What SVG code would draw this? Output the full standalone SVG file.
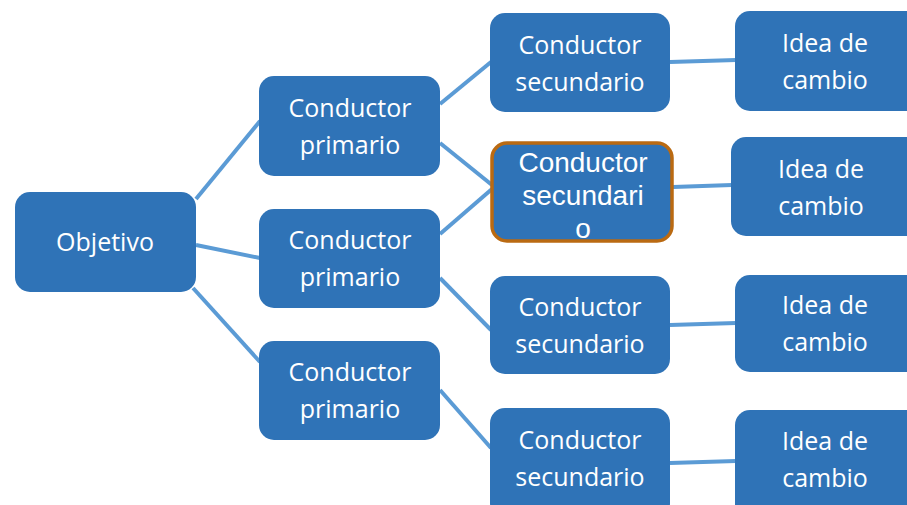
<svg xmlns="http://www.w3.org/2000/svg" width="907" height="505" viewBox="0 0 907 505">
<style>
.n{fill:#2F73B7;}
.hl{fill:#2F73B7;stroke:#BA6A12;stroke-width:3.5;}
.t{font-family:"Open Sans","Noto Sans",sans-serif;font-size:25px;fill:#fff;text-anchor:middle;}
.ta{font-family:"Liberation Sans",Arial,sans-serif;font-size:28px;fill:#fff;text-anchor:middle;}
.c line{stroke:#5B9BD5;stroke-width:4;}
</style>
<rect width="907" height="505" fill="#fff"/>
<g class="c" id="connectors">
<line x1="196" y1="199" x2="260" y2="121"/>
<line x1="196" y1="245" x2="260" y2="258"/>
<line x1="193" y1="288" x2="260" y2="362"/>
<line x1="440" y1="104" x2="491" y2="62"/>
<line x1="440" y1="143" x2="492" y2="185"/>
<line x1="440" y1="234" x2="492" y2="189"/>
<line x1="440" y1="278" x2="491" y2="330"/>
<line x1="440" y1="390" x2="491" y2="448"/>
<line x1="670" y1="62" x2="736" y2="60"/>
<line x1="673" y1="187" x2="732" y2="185"/>
<line x1="670" y1="325" x2="736" y2="323"/>
<line x1="670" y1="463" x2="736" y2="461"/>
</g>
<g id="objetivo"><rect class="n" x="15" y="192" width="181" height="100" rx="15"/><text class="t" x="105" y="251">Objetivo</text></g>
<g id="p1"><rect class="n" x="259" y="76" width="181" height="100" rx="15"/><text class="t" x="350" y="117">Conductor</text><text class="t" x="350" y="154">primario</text></g>
<g id="p2"><rect class="n" x="259" y="209" width="181" height="99" rx="15"/><text class="t" x="350" y="249">Conductor</text><text class="t" x="350" y="286">primario</text></g>
<g id="p3"><rect class="n" x="259" y="341" width="181" height="99" rx="15"/><text class="t" x="350" y="381">Conductor</text><text class="t" x="350" y="418">primario</text></g>
<g id="s1"><rect class="n" x="490" y="13" width="180" height="99" rx="15"/><text class="t" x="580" y="54">Conductor</text><text class="t" x="580" y="91">secundario</text></g>
<g id="s2"><rect class="hl" x="492" y="143" width="180" height="98" rx="15"/><text class="ta" x="583" y="172">Conductor</text><text class="ta" x="583" y="205">secundari</text><text class="ta" x="583" y="238">o</text></g>
<g id="s3"><rect class="n" x="490" y="276" width="180" height="98" rx="15"/><text class="t" x="580" y="316">Conductor</text><text class="t" x="580" y="353">secundario</text></g>
<g id="s4"><rect class="n" x="490" y="408" width="180" height="110" rx="15"/><text class="t" x="580" y="449">Conductor</text><text class="t" x="580" y="486">secundario</text></g>
<g id="i1"><rect class="n" x="735" y="11" width="190" height="100" rx="15"/><text class="t" x="825" y="52">Idea de</text><text class="t" x="825" y="89">cambio</text></g>
<g id="i2"><rect class="n" x="731" y="137" width="194" height="99" rx="15"/><text class="t" x="821" y="178">Idea de</text><text class="t" x="821" y="215">cambio</text></g>
<g id="i3"><rect class="n" x="735" y="275" width="190" height="97" rx="15"/><text class="t" x="825" y="314">Idea de</text><text class="t" x="825" y="351">cambio</text></g>
<g id="i4"><rect class="n" x="735" y="410" width="190" height="110" rx="15"/><text class="t" x="825" y="450">Idea de</text><text class="t" x="825" y="487">cambio</text></g>
</svg>
